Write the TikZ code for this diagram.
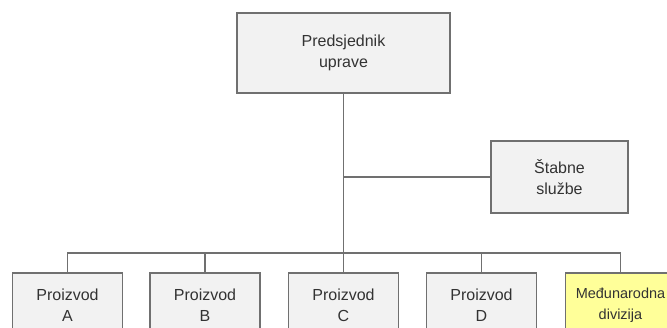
\documentclass[tikz,border=0pt]{standalone}
\usepackage{fontspec}
\setmainfont{Liberation Sans}
\usepackage{tikz}

\definecolor{boxfill}{HTML}{F2F2F2}
\definecolor{boxline}{HTML}{707070}
\definecolor{divfill}{HTML}{FFFF99}

\tikzset{
    orgbox/.style = {draw=boxline, line width=1.5pt, fill=boxfill, align=center, inner sep=0pt,
                     text=black!80, font=\fontsize{16}{21}\selectfont},
    unitbox/.style = {orgbox, minimum width=110, minimum height=65},
    conn/.style = {draw=boxline, line width=1.8pt}
}

\begin{document}
\begin{tikzpicture}[x=1pt, y=-1pt]
            \useasboundingbox (0,0) rectangle (667,328);
            \clip (0,0) rectangle (667,328);
            \node[orgbox, minimum width=213, minimum height=80] (pred) at (343.5,53) {Predsjednik\\uprave};
            \node[orgbox, minimum width=137, minimum height=72] (stab) at (559.5,177) {Štabne\\službe};
            \node[unitbox] (proA) at (67.5,305.5) {Proizvod\\A};
            \node[unitbox] (proB) at (205,305.5) {Proizvod\\B};
            \node[unitbox] (proC) at (343.5,305.5) {Proizvod\\C};
            \node[unitbox] (proD) at (481.5,305.5) {Proizvod\\D};
            \node[unitbox, fill=divfill, font=\fontsize{14.5}{21}\selectfont] (intl) at (620.5,305.5) {Međunarodna\\divizija};
            \coordinate (bus) at (343.5,253);
            \draw[conn] (pred.south) -- (bus);
            \draw[conn] (pred.south |- stab.west) -- (stab.west);
            \draw[conn] (proA.north) |- (bus) -| (intl.north);
            \draw[conn] (proB.north) -- (proB.north |- bus);
            \draw[conn] (proC.north) -- (bus);
            \draw[conn] (proD.north) -- (proD.north |- bus);
        \end{tikzpicture}
\end{document}
